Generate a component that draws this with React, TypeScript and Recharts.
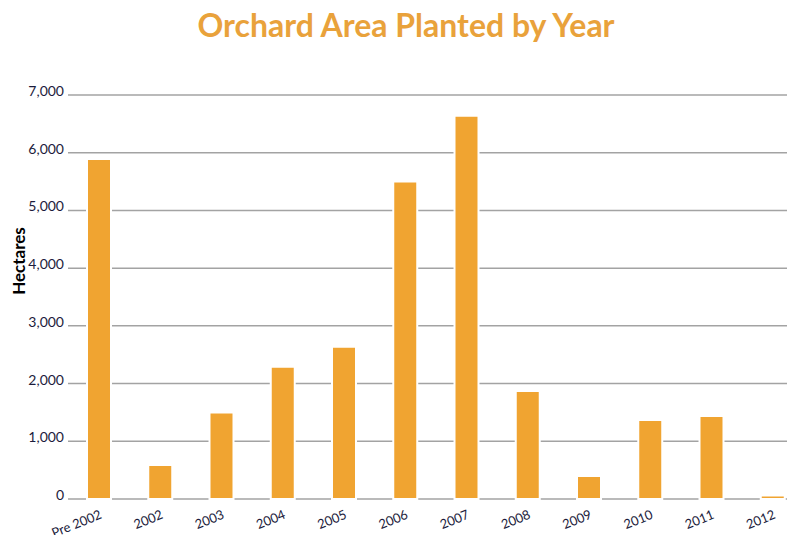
import React from 'react';
import { BarChart, Bar, XAxis, YAxis, CartesianGrid } from 'recharts';

const years = ['Pre 2002', '2002', '2003', '2004', '2005', '2006', '2007', '2008', '2009', '2010', '2011', '2012'];
const hectares = [5890, 590, 1500, 2290, 2640, 5500, 6640, 1870, 400, 1370, 1440, 60];
const yTicks = [0, 1000, 2000, 3000, 4000, 5000, 6000, 7000];

const chartData = years.map((name, i) => ({ name, value: hectares[i] }));

const FONT = 'Lato, "Open Sans", sans-serif';
const ORANGE = '#F0A431';

// rotated year labels, ending under the bar centre
const YearTick = (props: any) => {
  const { x, y, payload } = props;
  const ax = x + 4;
  const ay = y + 11;
  return (
    <text
      x={ax}
      y={ay}
      textAnchor="end"
      transform={`rotate(-22, ${ax}, ${ay})`}
      fontSize={13}
      fontFamily={FONT}
      fill="#1c1c3c"
    >
      {payload.value}
    </text>
  );
};

export default function App() {
  return (
    <div style={{ position: 'relative', width: 795, height: 543, margin: -8, background: '#fff' }}>
      <div
        style={{
          position: 'absolute',
          top: 5,
          left: 0,
          width: 812,
          textAlign: 'center',
          fontFamily: FONT,
          fontWeight: 700,
          fontSize: 32,
          color: '#E9A23B',
        }}
      >
        Orchard Area Planted by Year
      </div>
      <div
        style={{
          position: 'absolute',
          left: 18,
          top: 261,
          transform: 'translate(-50%, -50%) rotate(-90deg)',
          fontFamily: FONT,
          fontWeight: 700,
          fontSize: 17,
          color: '#000',
          whiteSpace: 'nowrap',
        }}
      >
        Hectares
      </div>
      <BarChart
        width={795}
        height={543}
        data={chartData}
        margin={{ top: 95, right: 0, left: 0, bottom: 14 }}
        barCategoryGap={0}
      >
        <CartesianGrid vertical={false} stroke="#a3a3a3" strokeWidth={1.5} />
        <XAxis
          dataKey="name"
          height={30}
          axisLine={false}
          tickLine={false}
          interval={0}
          padding={{ left: 0, right: -8 }}
          tick={<YearTick />}
        />
        <YAxis
          width={68}
          domain={[0, 7000]}
          ticks={yTicks}
          axisLine={false}
          tickLine={false}
          tickSize={0}
          tickMargin={4}
          tickFormatter={(v: number) => v.toLocaleString('en-US')}
          tick={{ fontSize: 14, fontFamily: FONT, fill: '#1c1c3c', dy: -4 }}
        />
        <Bar
          dataKey="value"
          fill={ORANGE}
          stroke="#ffffff"
          strokeWidth={2}
          barSize={24}
          isAnimationActive={false}
        />
      </BarChart>
    </div>
  );
}
